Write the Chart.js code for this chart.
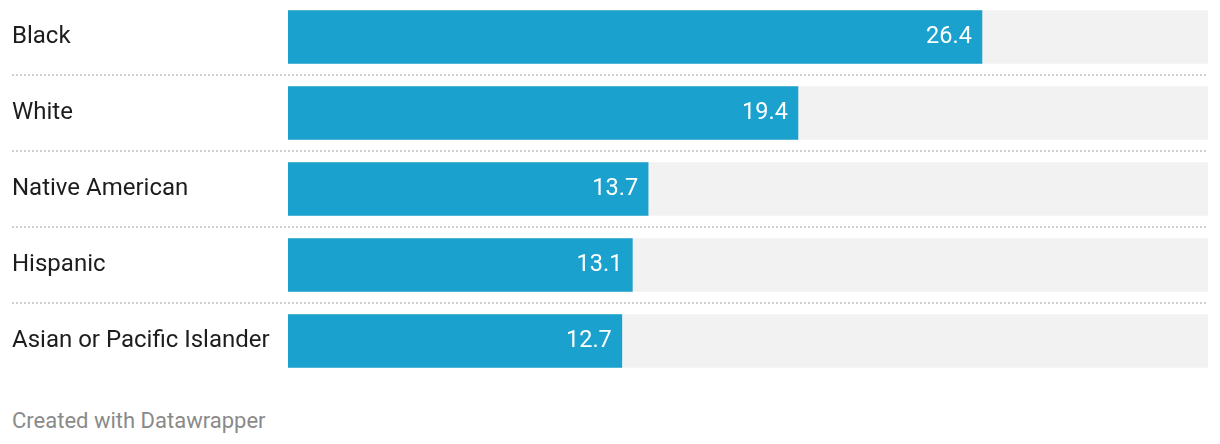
<!DOCTYPE html>
<html>
<head>
<meta charset="utf-8">
<script src="https://cdn.jsdelivr.net/npm/chart.js@4"></script>
<style>
  body { margin: 0; background: #fff; font-family: Roboto, sans-serif; }
  #wrap { position: absolute; left: 0; top: -17px; width: 1220px; height: 412px; }
  #credit { position: absolute; left: 12px; top: 408px; font-size: 22px; color: #8a8a8a; }
</style>
</head>
<body>
<div id="wrap"><canvas id="chart"></canvas></div>
<div id="credit">Created with Datawrapper</div>
<script>
const categories = ["Black", "White", "Native American", "Hispanic", "Asian or Pacific Islander"];
const values = [26.4, 19.4, 13.7, 13.1, 12.7];
const scaleMax = 35;
const fullBars = categories.map(() => scaleMax);

// value labels inside bar ends + dotted row separators
const extras = {
    id: "extras",
    afterDatasetsDraw(chart) {
        const ctx = chart.ctx;
        const bars = chart.getDatasetMeta(0).data;
        ctx.save();
        ctx.font = "23.5px Roboto";
        ctx.fillStyle = "#fff";
        ctx.textAlign = "right";
        ctx.textBaseline = "middle";
        bars.forEach((b, i) => {
            ctx.fillText(values[i].toFixed(1), b.x - 10, b.y);
        });
        ctx.strokeStyle = "#cfcfcf";
        ctx.lineWidth = 2;
        ctx.setLineDash([2, 2]);
        for (let i = 0; i < bars.length - 1; i++) {
            const y = Math.round((bars[i].y + bars[i + 1].y) / 2);
            ctx.beginPath();
            ctx.moveTo(12, y);
            ctx.lineTo(chart.chartArea.right, y);
            ctx.stroke();
        }
        ctx.restore();
    }
};

new Chart(document.getElementById("chart"), {
    type: "bar",
    data: {
        labels: categories,
        datasets: [
            {
                data: values,
                backgroundColor: "#1aa1ce",
                order: 1,
                grouped: false,
                barThickness: 53,
            },
            {
                data: fullBars,
                backgroundColor: "#f2f2f2",
                order: 2,
                grouped: false,
                barThickness: 53,
            },
        ],
    },
    options: {
        indexAxis: "y",
        responsive: true,
        maintainAspectRatio: false,
        animation: false,
        layout: { padding: { left: 12, right: 12, top: 16, bottom: 16 } },
        plugins: { legend: { display: false }, tooltip: { enabled: false } },
        scales: {
            x: { display: false, min: 0, max: scaleMax },
            y: {
                afterFit(scale) { scale.width = 276; },
                grid: { display: false, drawTicks: false },
                border: { display: false },
                ticks: {
                    crossAlign: "far",
                    padding: 0,
                    color: "#1d1d1d",
                    font: { family: "Roboto", size: 24 },
                },
            },
        },
    },
    plugins: [extras],
});
</script>
</body>
</html>
